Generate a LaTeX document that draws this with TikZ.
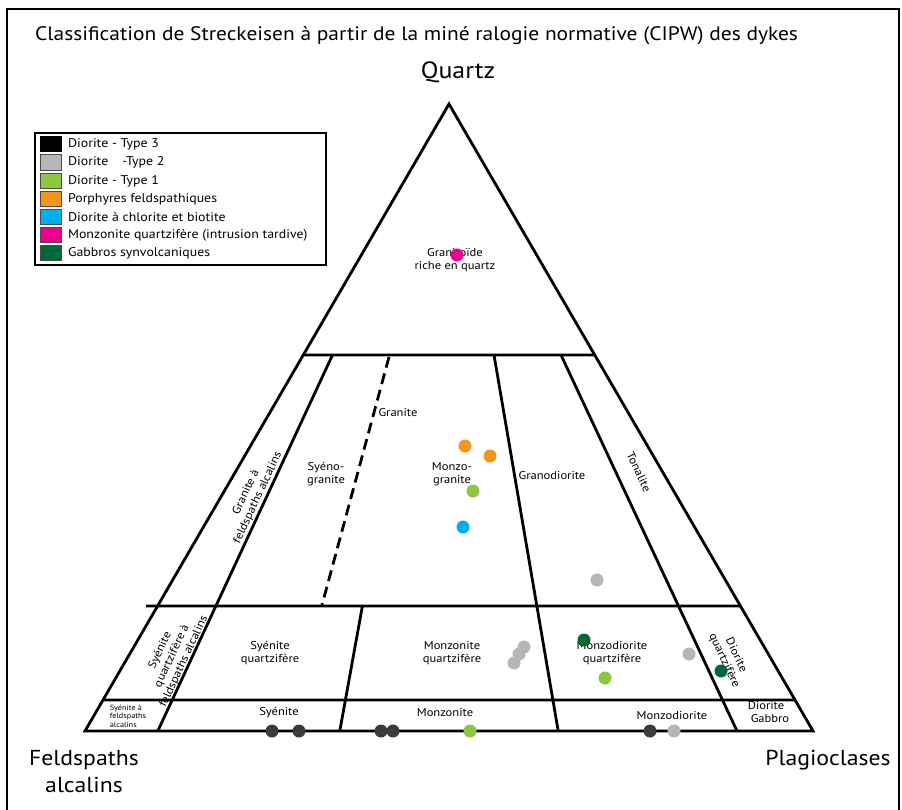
\documentclass[tikz,border=0pt]{standalone}
\usepackage{fontspec}
\setmainfont[FakeStretch=1.1]{PT Sans}
\usepackage{xcolor}
\usetikzlibrary{positioning}

\definecolor{typetrois}{HTML}{3B3B3D}
\definecolor{typedeux}{HTML}{B5B6B9}
\definecolor{typeun}{HTML}{8DC63F}
\definecolor{porphyre}{HTML}{F7941D}
\definecolor{chlorite}{HTML}{00AEEF}
\definecolor{tardive}{HTML}{EC008C}
\definecolor{gabbro}{HTML}{006838}

\begin{document}
\begin{tikzpicture}[x=1pt,y=-1pt,
		lim/.style={line width=2.8pt},
		lab/.style={font=\fontsize{11.4}{13}\selectfont,align=center,inner sep=0pt},
		big/.style={font=\fontsize{21.6}{27}\selectfont,align=center,inner sep=0pt},
		sample/.style={circle,fill=#1,minimum size=13pt,inner sep=0pt},
		swatch/.style={draw=gray!60!black,line width=0.8pt,fill=#1,minimum width=21pt,minimum height=15.5pt,inner sep=0pt},
		leg/.style={font=\fontsize{12.6}{13}\selectfont,inner sep=0pt,right=6pt of #1}]
		\useasboundingbox (0,0) rectangle (902,810);
		\draw[line width=2pt] (7,810) -- (7,9) -- (899,9) -- (899,810);

		% sommets et limites
		\coordinate (Q) at (449,104);
		\coordinate (A) at (85,731);
		\coordinate (P) at (813,731);
		\coordinate (q60a) at (303.4,355);  \coordinate (q60p) at (594.6,355);
		\coordinate (q20a) at (146,606);    \coordinate (q20p) at (740.2,606);
		\coordinate (q5a) at (103.2,700);   \coordinate (q5p) at (794.8,700);
		\coordinate (r10h) at (332.5,355);  \coordinate (r10b) at (157.8,731);
		\coordinate (r35h) at (389,357);    \coordinate (r35m) at (322,605);
		\coordinate (r35s) at (362.4,606);  \coordinate (r35b) at (339.8,731);
		\coordinate (r65h) at (494,355);    \coordinate (r65b) at (558.2,731);
		\coordinate (r90h) at (561,355);    \coordinate (r90b) at (737,731);

		\draw[lim,line join=miter] (A) -- (Q) -- (P) -- cycle;
		\draw[lim] (q60a) -- (q60p)
			(q20a) -- (q20p)
			(q5a) -- (q5p)
			(r10h) -- (r10b)
			(r35s) -- (r35b)
			(r65h) -- (r65b)
			(r90h) -- (r90b);
		\draw[lim,dash pattern=on 11pt off 6pt] (r35h) -- (r35m);

		% textes
		\node[anchor=west,font=\fontsize{19.5}{22}\selectfont,inner sep=0pt] (titre) at (35,36) {Classification de Streckeisen à partir de la miné ralogie normative (CIPW) des dykes};
		\node[big,font=\fontsize{23.5}{27}\selectfont] (quartz) at (458,72) {Quartz};
		\node[big] (feld) at (84,772) {Feldspaths\\alcalins};
		\node[big] (plagio) at (828,760) {Plagioclases};

		\node[lab] (gqz) at (455,260) {Granitoïde\\riche en quartz};
		\node[lab] (gra) at (398,413) {Granite};
		\node[lab] (syeg) at (326,474) {Syéno-\\granite};
		\node[lab] (monzg) at (452,474) {Monzo-\\granite};
		\node[lab] (grd) at (552,476) {Granodiorite};
		\node[lab,rotate=-65] (ton) at (639,472) {Tonalite};
		\node[lab,rotate=65] (gfa) at (252,495) {Granite à\\feldspaths alcalins};
		\node[lab,rotate=65] (sqfa) at (172,656) {Syénite\\quartzifère à\\feldspaths alcalins};
		\node[lab] (sq) at (270,653) {Syénite\\quartzifère};
		\node[lab] (mq) at (452,653) {Monzonite\\quartzifère};
		\node[lab] (mdq) at (612,653) {Monzodiorite\\quartzifère};
		\node[lab,rotate=-65] (dq) at (730,658) {Diorite\\quartzifère};
		\node[lab,align=left,font=\fontsize{7.5}{8.5}\selectfont] (sfa) at (128,716) {Syénite à\\feldspaths\\alcalins};
		\node[lab] (sy) at (279,713) {Syénite};
		\node[lab] (mz) at (445,713) {Monzonite};
		\node[lab] (mzd) at (672,716) {Monzodiorite};
		\node[lab] (dg) at (766,712) {Diorite\\\hspace*{8pt}Gabbro};

		% echantillons
		\node[sample=tardive] (s1) at (457,255) {};
		\node[sample=porphyre] (s2) at (465,446) {};
		\node[sample=porphyre] (s3) at (490,456) {};
		\node[sample=typeun] (s4) at (473,491) {};
		\node[sample=chlorite] (s5) at (463,527) {};
		\node[sample=typedeux] (s6) at (597,580) {};
		\node[sample=typedeux] (s7) at (524,647) {};
		\node[sample=typedeux] (s8) at (519,654) {};
		\node[sample=typedeux] (s9) at (514,663) {};
		\node[sample=gabbro] (s10) at (584,640) {};
		\node[sample=gabbro] (s11) at (721,671) {};
		\node[sample=typeun] (s12) at (605,678) {};
		\node[sample=typedeux] (s13) at (689,654) {};
		\node[sample=typetrois] (s14) at (272,731) {};
		\node[sample=typetrois] (s15) at (299,731) {};
		\node[sample=typetrois] (s16) at (381,731) {};
		\node[sample=typetrois] (s17) at (393,731) {};
		\node[sample=typeun] (s18) at (470,731) {};
		\node[sample=typetrois] (s19) at (650,731) {};
		\node[sample=typedeux] (s20) at (674,731) {};

		% legende
		\node[draw,line width=2pt,minimum width=291pt,minimum height=132pt,anchor=north west] (cadre) at (34,132) {};
		\node[swatch=black,draw=black] (c1) at (51,144) {};
		\node[swatch=typedeux] (c2) at (51,162.5) {};
		\node[swatch=typeun] (c3) at (51,181) {};
		\node[swatch=porphyre] (c4) at (51,199) {};
		\node[swatch=chlorite] (c5) at (51,217) {};
		\node[swatch=tardive] (c6) at (51,235) {};
		\node[swatch=gabbro] (c7) at (51,253) {};
		\node[leg=c1] (l1) {Diorite - Type 3};
		\node[leg=c2] (l2) {Diorite\hspace{14pt}-Type 2};
		\node[leg=c3] (l3) {Diorite - Type 1};
		\node[leg=c4] (l4) {Porphyres feldspathiques};
		\node[leg=c5] (l5) {Diorite à chlorite et biotite};
		\node[leg=c6] (l6) {Monzonite quartzifère (intrusion tardive)};
		\node[leg=c7] (l7) {Gabbros synvolcaniques};
	\end{tikzpicture}
\end{document}
